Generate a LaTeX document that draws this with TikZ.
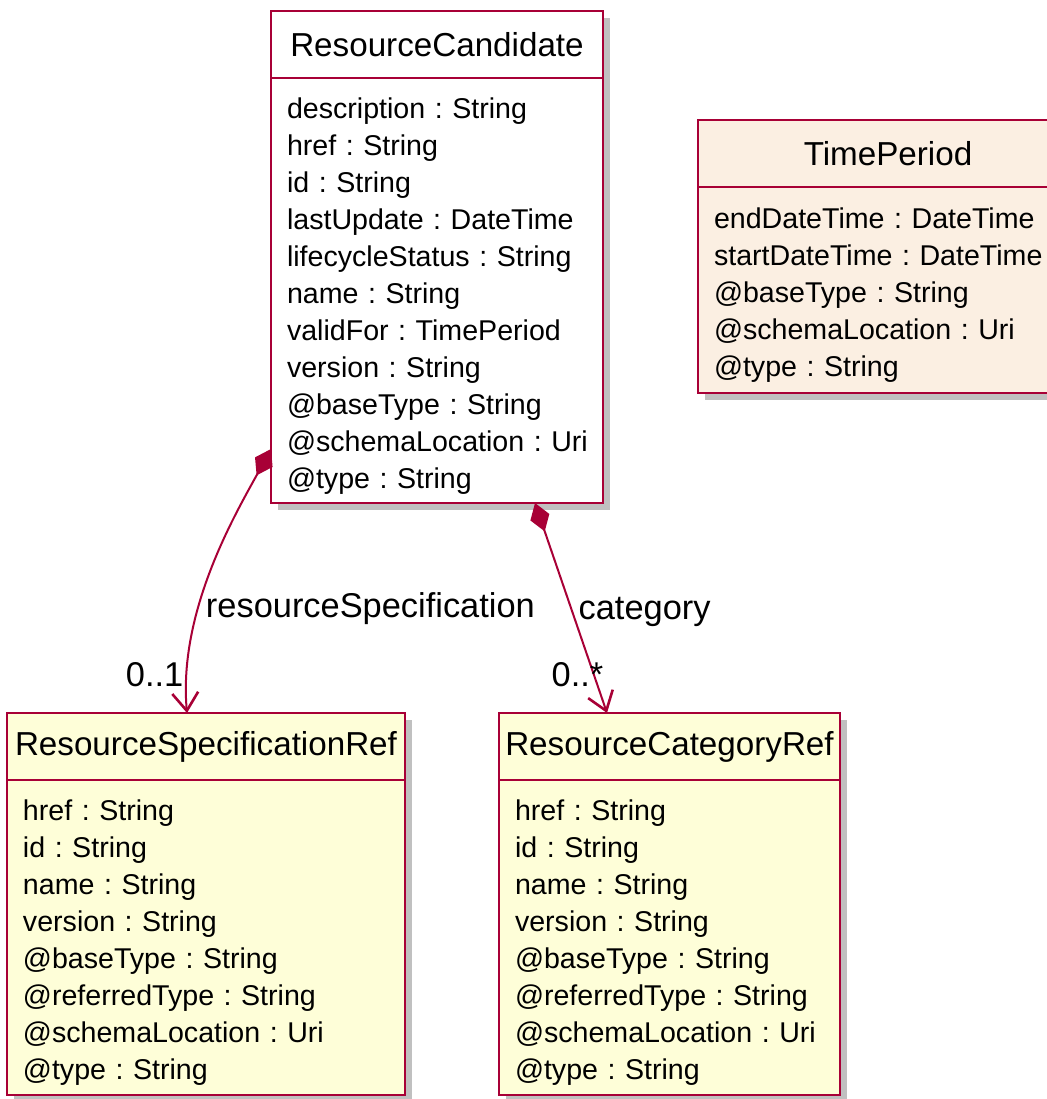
\documentclass[tikz,border=0pt]{standalone}
\usepackage{fontspec}
\setmainfont{Liberation Sans}
\usepackage{tikz}
\usetikzlibrary{calc}
\usetikzlibrary{positioning}
\usetikzlibrary{shadows}
\usetikzlibrary{arrows.meta}
\definecolor{umlred}{HTML}{A80036}
\definecolor{refyellow}{HTML}{FEFED8}
\definecolor{linen}{HTML}{FBEFE2}

\tikzset{
  classbox/.style={draw=umlred, line width=1.4pt, outer sep=0pt,
    drop shadow={shadow xshift=3.5pt, shadow yshift=-3.5pt, fill=black!45, opacity=0.55}},
  classhead/.style={classbox, minimum height=33.5pt, inner sep=0pt, font=\fontsize{16.6}{20}\selectfont},
  classbody/.style={classbox, align=left, inner xsep=8pt, inner ysep=0pt,
    font=\fontsize{14.3}{18.5}\selectfont\frenchspacing, execute at begin node={\rule{0pt}{15.6pt}}},
  assoc/.style={umlred, line width=1pt, {Diamond[length=15pt,width=10pt]}-{Straight Barb[length=9pt,width=13pt,line width=1.3pt]}},
  rolename/.style={font=\fontsize{17.2}{20}\selectfont, text=black},
}

\begin{document}
\begin{tikzpicture}[x=0.5pt,y=0.5pt]
      \useasboundingbox (0,0) rectangle (1046,-1099);
      \node[classhead, fill=white, minimum width=166pt, anchor=north west] (rc) at (271,-11) {ResourceCandidate};
      \node[classbody, fill=white, text width=150pt, minimum height=212.5pt, below=0pt of rc] (rcbody)
        {description : String\\ href : String\\ id : String\\ lastUpdate : DateTime\\ lifecycleStatus : String\\
         name : String\\ validFor : TimePeriod\\ version : String\\ @baseType : String\\ @schemaLocation~:~Uri\\ @type : String};
      \node[classhead, fill=linen, minimum width=190pt, anchor=north west] (tp) at (698,-120) {TimePeriod};
      \node[classbody, fill=linen, text width=174pt, minimum height=103pt, below=0pt of tp] (tpbody)
        {endDateTime : DateTime\\ startDateTime : DateTime\\ @baseType : String\\ @schemaLocation : Uri\\ @type : String};
      \node[classhead, fill=refyellow, minimum width=199pt, anchor=north west] (rsr) at (7,-713) {ResourceSpecificationRef};
      \node[classbody, fill=refyellow, text width=183pt, minimum height=157.5pt, below=0pt of rsr] (rsrbody)
        {href : String\\ id : String\\ name : String\\ version : String\\ @baseType : String\\ @referredType : String\\
         @schemaLocation : Uri\\ @type : String};
      \node[classhead, fill=refyellow, minimum width=170.5pt, anchor=north west] (rcr) at (499,-713) {ResourceCategoryRef};
      \node[classbody, fill=refyellow, text width=154.5pt, minimum height=157.5pt, below=0pt of rcr] (rcrbody)
        {href : String\\ id : String\\ name : String\\ version : String\\ @baseType : String\\ @referredType : String\\
         @schemaLocation : Uri\\ @type : String};
      \draw[assoc] ($(rcbody.south west)+(0,54)$) .. controls +(-35,-64) and +(-9,102) .. ($(rsr.north)+(-19,0)$)
        node[rolename, pos=0.65, anchor=west] (specrole) {resourceSpecification}
        node[rolename, pos=1, anchor=south east, xshift=2pt, yshift=9.5pt] (specmult) {0..1};
      \draw[assoc] ($(rcbody.south west)+(264,0)$) -- ($(rcr.north west)+(108,0)$)
        node[rolename, pos=0.5, anchor=west, yshift=-2pt] (catrole) {category}
        node[rolename, pos=1, anchor=south east, xshift=2pt, yshift=9.5pt] (catmult) {0..*};
    \end{tikzpicture}
\end{document}
